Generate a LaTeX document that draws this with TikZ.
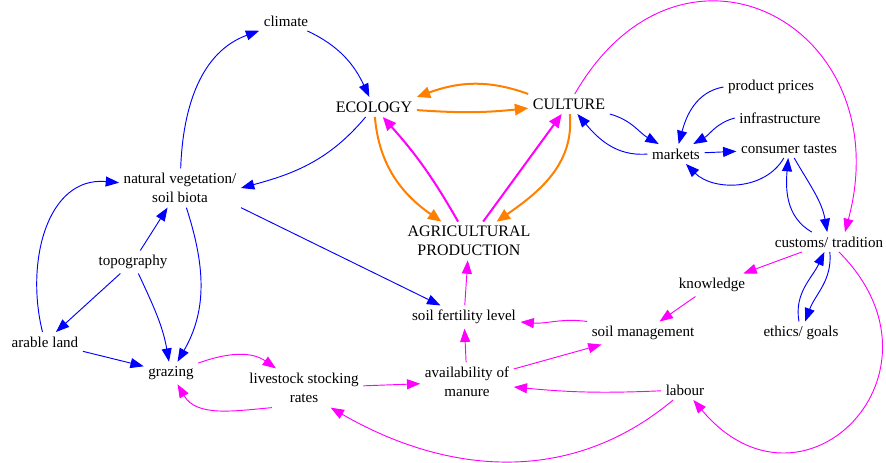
\documentclass[tikz,border=0pt]{standalone}
\usepackage{fontspec}
\setmainfont{Liberation Serif}
\usetikzlibrary{arrows.meta}
\definecolor{orng}{RGB}{255,128,0}
\definecolor{mgnt}{RGB}{255,0,255}
\definecolor{blu}{RGB}{0,0,255}
\begin{document}
\begin{tikzpicture}[x=0.75pt,y=0.75pt,
  var/.style={font=\fontsize{11.3}{14.5}\selectfont,align=center,inner sep=2pt,outer sep=1.5pt},
  sect/.style={font=\fontsize{12}{14}\selectfont,align=center,inner sep=2pt,outer sep=1.5pt},
  bl/.style={-{Triangle[length=10pt,width=7.5pt]},blu,line width=0.7pt},
  mg/.style={-{Triangle[length=10pt,width=7.5pt]},mgnt,line width=0.7pt},
  mgth/.style={-{Triangle[length=10pt,width=8.5pt]},mgnt,line width=1.5pt},
  org/.style={-{Triangle[length=10pt,width=8.5pt]},orng,line width=1.5pt}]
\useasboundingbox(0,0)rectangle(886,-462);
\node[var](clim)at(286,-21){climate};
\node[sect](eco)at(374,-107){ECOLOGY};
\node[sect](cult)at(569,-104){CULTURE};
\node[sect](agri)at(469,-241){AGRICULTURAL\\PRODUCTION};
\node[var](natveg)at(180,-188){natural vegetation/\\soil biota};
\node[var](topo)at(133,-262){topography};
\node[var](arable)at(45,-342){arable land};
\node[var](grazing)at(171,-373){grazing};
\node[var](livestock)at(304,-388){livestock stocking\\rates};
\node[var](avail)at(467,-382){availability of\\manure};
\node[var](soilfert)at(464,-317){soil fertility level};
\node[var](soilmgmt)at(643,-333){soil management};
\node[var](labour)at(685,-390){labour};
\node[var](knowl)at(712,-285){knowledge};
\node[var](ethics)at(801,-333){ethics/ goals};
\node[var](customs)at(829,-242){customs/ tradition};
\node[var](constaste)at(789,-149){consumer tastes};
\node[var](markets)at(676,-154){markets};
\node[var](infra)at(780,-118){infrastructure};
\node[var](prodpr)at(771,-87){product prices};
\draw[bl](clim)to[out=-25,in=115](eco);
\draw[bl](natveg)to[out=88,in=200](clim);
\draw[bl](eco)to[out=230,in=15](natveg.east);
\draw[bl](natveg.south east)--(soilfert);
\draw[bl](natveg)to[out=-72,in=60](grazing);
\draw[bl](topo)--(natveg);
\draw[bl](topo)--(arable);
\draw[bl](topo)to[out=-65,in=100](grazing);
\draw[bl](arable)to[out=104,in=175,looseness=1.1](natveg);
\draw[bl](arable)--(grazing);
\draw[bl](cult.south east)to[out=-15,in=150](markets);
\draw[bl](markets.west)to[out=185,in=-50](cult);
\draw[bl](prodpr.west)to[out=190,in=75](markets);
\draw[bl](infra.west)to[out=195,in=30](markets);
\draw[bl](markets)--(constaste);
\draw[bl](constaste)to[out=-120,in=-45](markets);
\draw[bl](constaste)to[out=-60,in=100](customs);
\draw[bl](customs)to[out=150,in=-95](constaste);
\draw[bl](customs)to[out=-85,in=70](ethics);
\draw[bl](ethics)to[out=100,in=-115](customs);
\draw[mg](cult)to[out=60,in=75,looseness=1.8]([xshift=12pt]customs.north);
\draw[mg](customs)to[out=-45,in=-50,looseness=2.1](labour);
\draw[mg](customs)--(knowl);
\draw[mg](knowl)--(soilmgmt);
\draw[mg](soilmgmt.north west)to[out=172,in=-5](soilfert);
\draw[mg](avail)--(soilmgmt);
\draw[mg](avail)--(soilfert);
\draw[mg](soilfert)--(agri);
\draw[mg](livestock)--(avail);
\draw[mg](labour)to[bend left=4](avail);
\draw[mg](labour)to[out=-140,in=-30]([xshift=20pt]livestock.south);
\draw[mg](grazing)to[out=20,in=145](livestock);
\draw[mg]([xshift=-24pt]livestock.south)to[out=185,in=-60](grazing);
\draw[mgth](agri)to[bend right=6](eco);
\draw[mgth](agri)--(cult);
\draw[org](eco)to[bend right=5](cult);
\draw[org](cult.north west)to[out=160,in=20](eco.north east);
\draw[org](eco)to[out=-85,in=145](agri);
\draw[org](cult)to[out=-85,in=35](agri);
\end{tikzpicture}
\end{document}
